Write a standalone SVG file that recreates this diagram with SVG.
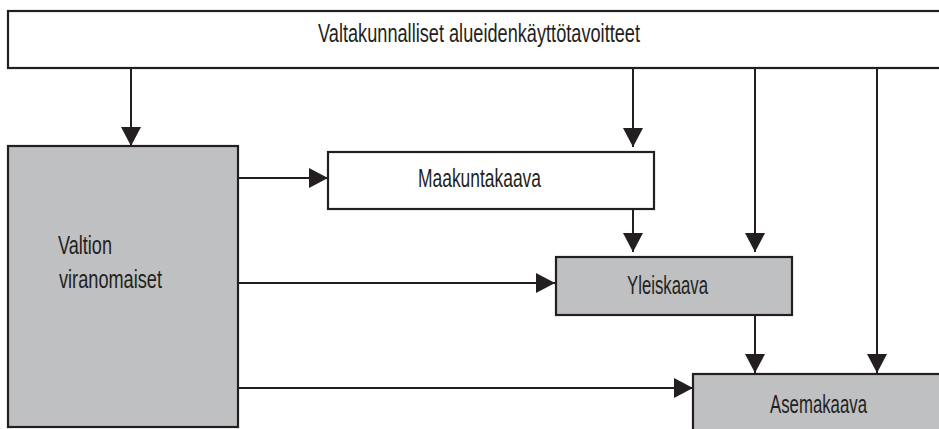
<svg xmlns="http://www.w3.org/2000/svg" width="939" height="429" viewBox="0 0 939 429">
<defs>
<style>
.box{stroke:#231f20;stroke-width:2.2}
.white{fill:#ffffff}
.gray{fill:#bfc0c2}
.lbl{font-family:"Liberation Sans",Arial,sans-serif;font-size:25px;fill:#231f20}
.con{stroke:#231f20;stroke-width:2;fill:none}
</style>
<marker id="arr" markerUnits="userSpaceOnUse" markerWidth="20" markerHeight="20" refX="19" refY="10" orient="auto" viewBox="0 0 20 20">
<path d="M0,0 L19,10 L0,20 z" fill="#231f20"/>
</marker>
</defs>
<rect width="939" height="429" fill="#ffffff"/>
<g id="connectors">
<line class="con" x1="131" y1="68" x2="131" y2="146" marker-end="url(#arr)"/>
<line class="con" x1="633" y1="68" x2="633" y2="147" marker-end="url(#arr)"/>
<line class="con" x1="755" y1="68" x2="755" y2="252" marker-end="url(#arr)"/>
<line class="con" x1="877" y1="68" x2="877" y2="373" marker-end="url(#arr)"/>
<line class="con" x1="633" y1="209" x2="633" y2="252" marker-end="url(#arr)"/>
<line class="con" x1="755" y1="315" x2="755" y2="373" marker-end="url(#arr)"/>
<line class="con" x1="238" y1="178" x2="328" y2="178" marker-end="url(#arr)"/>
<line class="con" x1="238" y1="283" x2="555" y2="283" marker-end="url(#arr)"/>
<line class="con" x1="238" y1="388" x2="693" y2="388" marker-end="url(#arr)"/>
</g>
<g id="valtakunnalliset">
<rect class="box white" x="8" y="11" width="940" height="57"/>
<text class="lbl" x="318" y="42" textLength="322" lengthAdjust="spacingAndGlyphs">Valtakunnalliset alueidenkäyttötavoitteet</text>
</g>
<g id="valtion">
<rect class="box gray" x="8" y="146" width="230" height="281"/>
<text class="lbl" x="58" y="254" textLength="54" lengthAdjust="spacingAndGlyphs">Valtion</text>
<text class="lbl" x="59" y="288" textLength="103" lengthAdjust="spacingAndGlyphs">viranomaiset</text>
</g>
<g id="maakuntakaava">
<rect class="box white" x="328" y="152" width="326" height="57"/>
<text class="lbl" x="418" y="187" textLength="123" lengthAdjust="spacingAndGlyphs">Maakuntakaava</text>
</g>
<g id="yleiskaava">
<rect class="box gray" x="556" y="257" width="236" height="58"/>
<text class="lbl" x="627" y="294" textLength="81" lengthAdjust="spacingAndGlyphs">Yleiskaava</text>
</g>
<g id="asemakaava">
<rect class="box gray" x="693" y="374" width="260" height="70"/>
<text class="lbl" x="770" y="413" textLength="97" lengthAdjust="spacingAndGlyphs">Asemakaava</text>
</g>
</svg>
